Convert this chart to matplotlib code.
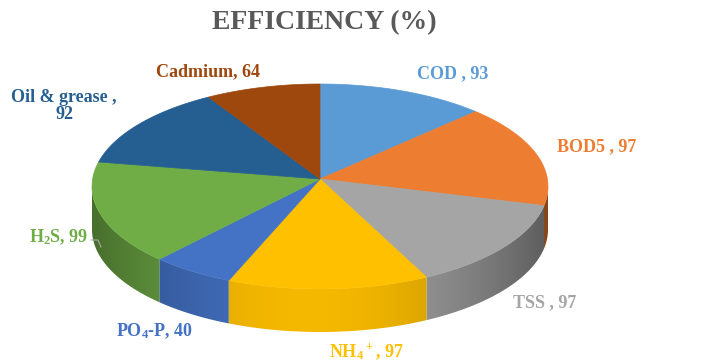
import numpy as np
import matplotlib
matplotlib.use("Agg")
import matplotlib.pyplot as plt
from matplotlib.patches import Polygon
from matplotlib.colors import to_rgb

plt.rcParams['font.family'] = ['Liberation Serif', 'DejaVu Serif']
plt.rcParams['font.weight'] = 'bold'
plt.rcParams['mathtext.default'] = 'regular'

# data (clockwise from 12 o'clock)
labels = ['COD', 'BOD5', 'TSS', 'NH4+', 'PO4-P', 'H2S', 'Oil & grease', 'Cadmium']
values = [93, 97, 97, 97, 40, 99, 92, 64]
label_texts = ['COD , 93', 'BOD5 , 97', 'TSS , 97', r'NH$_4$$^+$, 97', r'PO$_4$-P, 40',
               r'H$_2$S, 99', 'Oil & grease ,\n92', 'Cadmium, 64']
colors = ['#5B9BD5', '#ED7D31', '#A5A5A5', '#FFC000', '#4472C4', '#70AD47', '#255E91', '#9E480E']

# layout (pixel coords, y down)
cx, cy, rx, ry, depth = 320, 186.5, 228, 102.5, 43
apex = (320, 179)      # where the slices meet (perspective)
persp = 0.17           # squeeze of the far half
label_pos = [(453, 74), (597, 147), (545, 303), (367, 352), (155, 331),
             (59, 237), (64, 106), (208, 72)]


def pt(theta, dy=0.0):
    t = np.radians(theta)
    s, c = np.sin(t), np.cos(t)
    if c > 0:
        s = s / (1 + persp * c)
        c = np.sqrt(max(0.0, 1 - s * s))
    return cx + rx * s, cy - ry * c + dy


def shade(c, f):
    r, g, b = to_rgb(c)
    return np.array([r * f, g * f, b * f])


fig = plt.figure(figsize=(7.07, 3.63), dpi=100)
ax = fig.add_axes([0, 0, 1, 1])
ax.set_xlim(0, 707)
ax.set_ylim(363, 0)
ax.axis('off')

bounds = np.concatenate([[0], np.cumsum(values)]) / sum(values) * 360

# side walls (front half only), with a horizontal light gradient
for i, c in enumerate(colors):
    a0, a1 = max(bounds[i], 90), min(bounds[i + 1], 270)
    if a1 <= a0:
        continue
    angs = np.linspace(a0, a1, 120)
    top = [pt(a) for a in angs]
    bot = [pt(a, depth) for a in angs[::-1]]
    poly = Polygon(top + bot, closed=True, facecolor='none', edgecolor='none')
    ax.add_patch(poly)
    xs = np.array([p[0] for p in top])
    x0, x1 = xs.min() - 1, xs.max() + 1
    gx = np.linspace(x0, x1, 200)
    sn = np.clip((gx - cx) / rx, -1, 1)
    f = 0.96 - 0.36 * sn ** 2 - 0.04 * sn
    img = np.array([[shade(c, v) for v in f]])
    ys = [p[1] for p in top + bot]
    im = ax.imshow(img, extent=(x0, x1, max(ys) + 1, min(ys) - 1),
                   aspect='auto', interpolation='bilinear', zorder=1)
    im.set_clip_path(poly)

# top face
for i, c in enumerate(colors):
    angs = np.linspace(bounds[i], bounds[i + 1], 100)
    p = [apex] + [pt(a) for a in angs]
    ax.add_patch(Polygon(p, closed=True, facecolor=c, edgecolor=c, lw=0.5, zorder=2))

# labels
for txt, (x, y), c in zip(label_texts, label_pos, colors):
    ax.text(x, y, txt, color=c, fontsize=13, fontweight='bold',
            ha='center', va='center', linespacing=0.95, zorder=3)

# leader line for H2S
ax.plot([91, 98, 101], [240, 240, 247], color='#A6A6A6', lw=0.8, zorder=3)

ax.text(324, 23, 'EFFICIENCY (%)', color='#595959', fontsize=20,
        fontweight='bold', ha='center', va='center')

ax.set_xlim(0, 707)
ax.set_ylim(363, 0)
fig.savefig('out.png', dpi=100)
